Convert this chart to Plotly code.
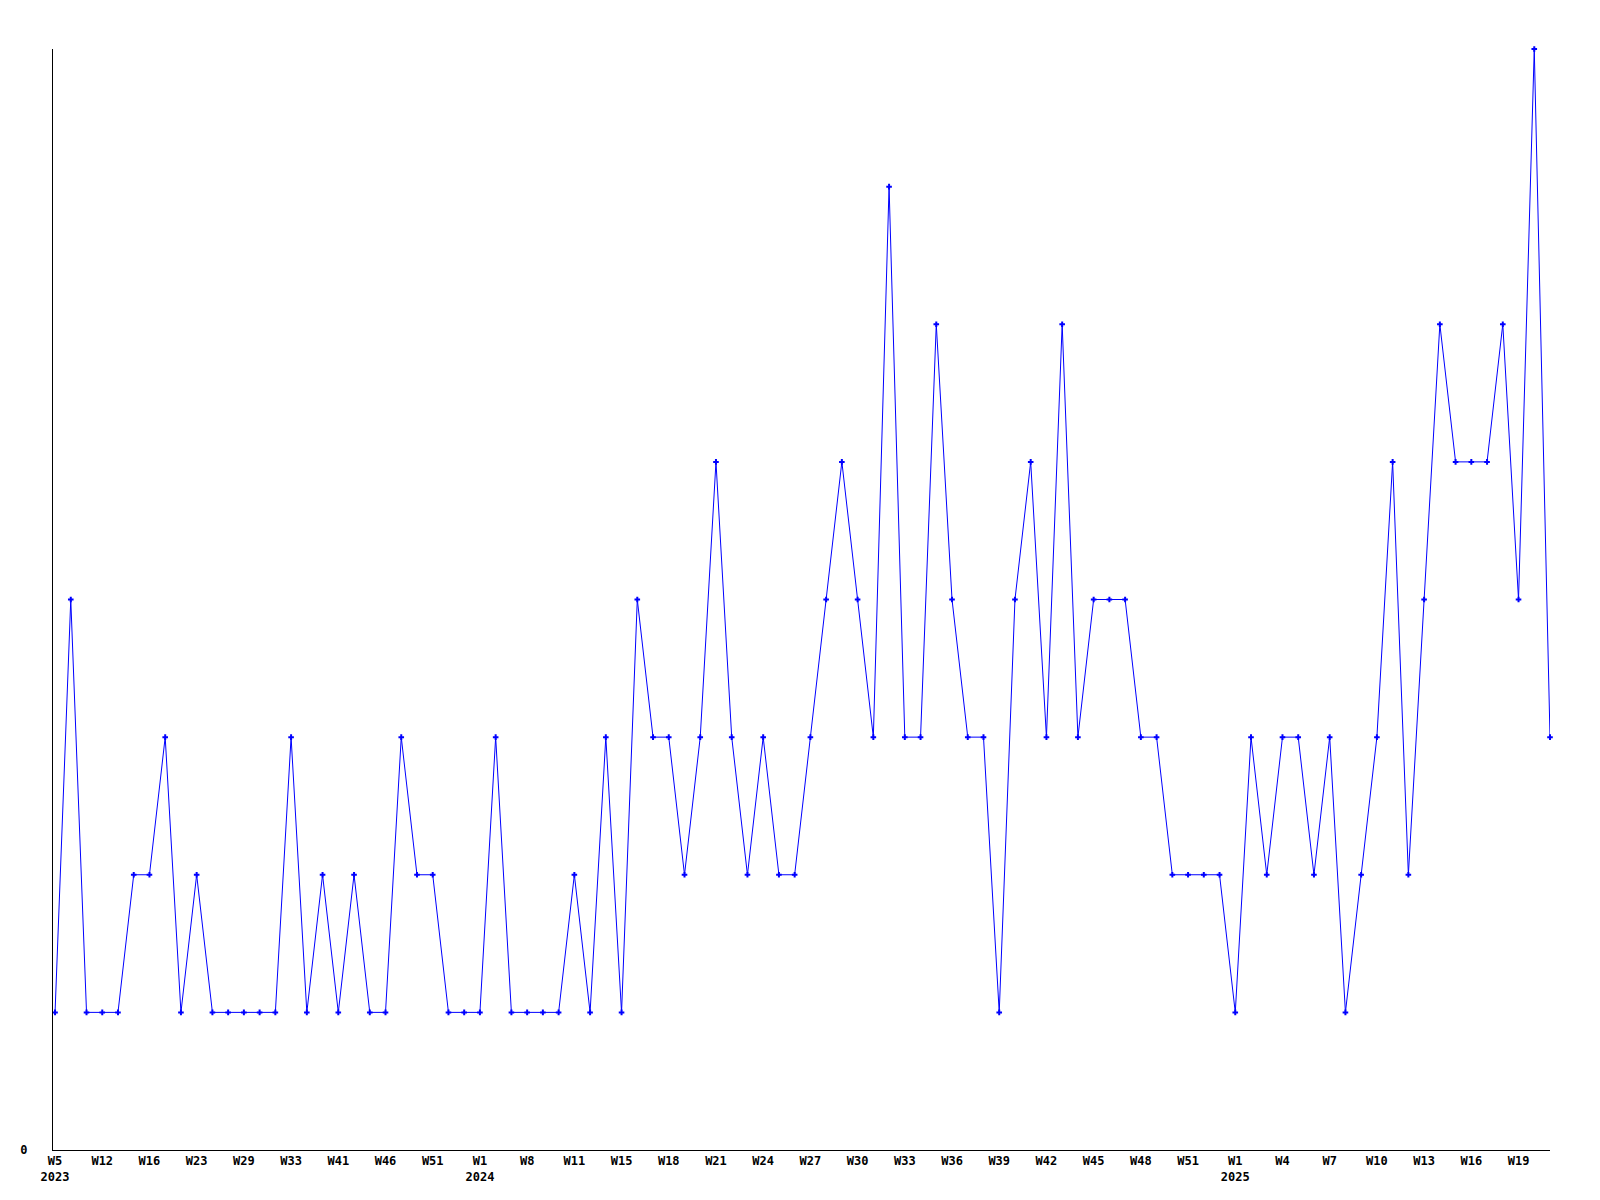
import plotly.graph_objects as go

values = [1, 4, 1, 1, 1, 2, 2, 3, 1, 2,
          1, 1, 1, 1, 1, 3, 1, 2, 1, 2,
          1, 1, 3, 2, 2, 1, 1, 1, 3, 1,
          1, 1, 1, 2, 1, 3, 1, 4, 3, 3,
          2, 3, 5, 3, 2, 3, 2, 2, 3, 4,
          5, 4, 3, 7, 3, 3, 6, 4, 3, 3,
          1, 4, 5, 3, 6, 3, 4, 4, 4, 3,
          3, 2, 2, 2, 2, 1, 3, 2, 3, 3,
          2, 3, 1, 2, 3, 5, 2, 4, 6, 5,
          5, 5, 6, 4, 8, 3]

tick_weeks = ["W5", "W12", "W16", "W23", "W29", "W33", "W41", "W46", "W51",
              "W1", "W8", "W11", "W15", "W18", "W21", "W24", "W27", "W30",
              "W33", "W36", "W39", "W42", "W45", "W48", "W51",
              "W1", "W4", "W7", "W10", "W13", "W16", "W19"]
tick_years = ["2023", "", "", "", "", "", "", "", "",
              "2024", "", "", "", "", "", "", "", "",
              "", "", "", "", "", "", "",
              "2025", "", "", "", "", "", ""]
tick_step = 3

x = list(range(len(values)))
tickvals = [i * tick_step for i in range(len(tick_weeks))]
ticktext = [w + ("<br>" + y if y else "<br> ") for w, y in zip(tick_weeks, tick_years)]

font = dict(family="DejaVu Sans Mono", size=12, color="black", weight="bold")

fig = go.Figure(go.Scatter(
    x=x, y=values, mode="lines+markers",
    line=dict(color="#0000FF", width=1),
    marker=dict(symbol="cross-thin", size=4, color="#0000FF",
                line=dict(color="#0000FF", width=2)),
    cliponaxis=False,
    hoverinfo="x+y",
))

fig.update_layout(
    width=1600, height=1200,
    margin=dict(l=38, r=58, t=41, b=58),
    paper_bgcolor="white", plot_bgcolor="white",
    showlegend=False,
    font=font,
)
fig.update_xaxes(
    range=[-0.13, len(values) - 1],
    tickvals=tickvals, ticktext=ticktext,
    showgrid=False, zeroline=False,
    showline=True, linecolor="black", linewidth=1,
    ticks="", tickfont=font,
)
fig.update_yaxes(
    range=[0, 8],
    tickvals=[0], ticktext=["0"],
    showgrid=False, zeroline=False,
    showline=True, linecolor="black", linewidth=1,
    ticks="", tickfont=font, ticklabelstandoff=22,
)

fig.write_html("out.html")
